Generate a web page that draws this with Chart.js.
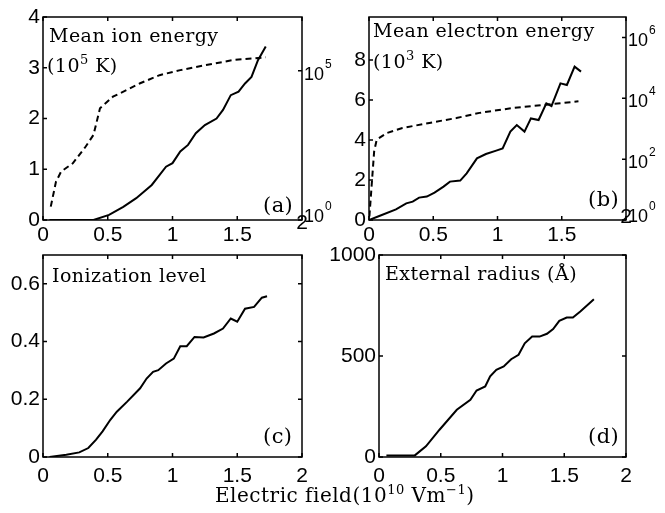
<!doctype html>
<html>
<head>
<meta charset="utf-8" />
<title>Field dependence</title>
<script src="https://cdn.jsdelivr.net/npm/chart.js@4.4.0/dist/chart.umd.min.js"></script>
<style>
  body { margin: 0; background: #fff; }
  #wrap { position: relative; width: 665px; height: 513px; overflow: hidden; }
  #wrap canvas { position: absolute; }
  #xtitle {
    position: absolute; left: 215px; top: 485px;
    font: 20px "DejaVu Serif"; line-height: 1; letter-spacing: 0.5px; white-space: nowrap; color: #000;
  }
  #xtitle sup { font-size: 13px; vertical-align: 8px; line-height: 0; }
</style>
</head>
<body>
<div id="wrap">
  <canvas id="pa" width="332" height="250" style="left:0;top:0"></canvas>
  <canvas id="pb" width="343" height="250" style="left:322px;top:0"></canvas>
  <canvas id="pc" width="332" height="260" style="left:0;top:232px"></canvas>
  <canvas id="pd" width="343" height="260" style="left:322px;top:232px"></canvas>
  <div id="xtitle">Electric field(10<sup>10</sup> Vm<sup>&minus;1</sup>)</div>
</div>
<script>
// ticks
const fieldTicks = [0, 0.5, 1, 1.5, 2];
const ionTicks = [0, 1, 2, 3, 4];
const ionLogTicks = [1, 1e5];
const elecTicks = [0, 2, 4, 6, 8];
const elecLogTicks = [1, 1e2, 1e4, 1e6];
const ionizTicks = [0, 0.2, 0.4, 0.6];
const radiusTicks = [0, 500, 1000];

// (a) mean ion energy, 10^5 K (solid) and K on log axis (dashed)
const fieldIonLin = [0.05, 0.39, 0.51, 0.62, 0.72, 0.84, 0.95, 1.0, 1.06, 1.12, 1.18, 1.25, 1.34, 1.39, 1.45, 1.51, 1.56, 1.61, 1.66, 1.72];
const ionEnergyLin = [0, 0, 0.1, 0.26, 0.43, 0.69, 1.05, 1.12, 1.35, 1.48, 1.71, 1.87, 2.0, 2.17, 2.46, 2.53, 2.69, 2.82, 3.15, 3.42];
const fieldIonLog = [0.06, 0.10, 0.14, 0.23, 0.33, 0.39, 0.44, 0.54, 0.64, 0.75, 0.9, 1.06, 1.26, 1.47, 1.62, 1.72];
const ionEnergyLog = [2.8, 19, 42, 79, 290, 710, 5500, 13500, 22000, 38000, 71000, 105000, 155000, 229000, 257000, 282000];

// (b) mean electron energy, 10^3 K (solid) and K on log axis (dashed)
const fieldElecLin = [0, 0.08, 0.21, 0.29, 0.34, 0.39, 0.45, 0.51, 0.58, 0.63, 0.71, 0.76, 0.84, 0.91, 0.99, 1.04, 1.1, 1.15, 1.21, 1.26, 1.32, 1.38, 1.42, 1.49, 1.54, 1.6, 1.65];
const elecEnergyLin = [0, 0.2, 0.53, 0.83, 0.92, 1.12, 1.17, 1.37, 1.67, 1.92, 1.97, 2.33, 3.08, 3.3, 3.47, 3.58, 4.42, 4.75, 4.42, 5.08, 5.0, 5.83, 5.7, 6.83, 6.75, 7.67, 7.42];
const fieldElecLog = [0.003, 0.02, 0.04, 0.06, 0.14, 0.26, 0.47, 0.68, 0.86, 1.12, 1.38, 1.63];
const elecEnergyLog = [1.3, 12.6, 178, 437, 724, 1050, 1550, 2240, 3310, 4790, 6170, 7940];

// (c) ionization level
const fieldIoniz = [0.05, 0.18, 0.28, 0.35, 0.41, 0.46, 0.52, 0.57, 0.65, 0.75, 0.8, 0.85, 0.89, 0.95, 1.01, 1.06, 1.11, 1.17, 1.24, 1.32, 1.39, 1.45, 1.5, 1.56, 1.63, 1.69, 1.73];
const ionizLevel = [0, 0.008, 0.016, 0.031, 0.06, 0.089, 0.129, 0.157, 0.192, 0.238, 0.272, 0.295, 0.301, 0.324, 0.341, 0.384, 0.384, 0.416, 0.414, 0.428, 0.445, 0.48, 0.469, 0.514, 0.52, 0.552, 0.557];

// (d) external radius, angstrom
const fieldRadius = [0.06, 0.29, 0.38, 0.49, 0.63, 0.74, 0.79, 0.86, 0.9, 0.95, 1.01, 1.07, 1.13, 1.18, 1.24, 1.3, 1.36, 1.41, 1.46, 1.52, 1.57, 1.63, 1.74];
const extRadius = [8, 8, 53, 135, 234, 283, 329, 349, 399, 432, 448, 484, 506, 563, 596, 596, 610, 633, 674, 690, 690, 720, 781];

const tickFont = { family: 'Liberation Sans', size: 21 };
const serif = '"DejaVu Serif"';

function pts(xs, ys) {
  return xs.map((x, i) => ({ x: x, y: ys[i] }));
}

function fixedTicks(list) {
  return function (scale) { scale.ticks = list.map(v => ({ value: v })); };
}

// draws "text" pieces, some of them raised as superscripts
function drawRich(ctx, x, y, parts, size) {
  ctx.textAlign = 'left';
  ctx.textBaseline = 'alphabetic';
  ctx.letterSpacing = '0.45px';
  for (const p of parts) {
    const sup = p[1] === 'sup';
    const fs = sup ? Math.round(size * 0.68) : size;
    ctx.font = fs + 'px ' + serif;
    ctx.fillText(p[0], x, sup ? y - size * 0.42 : y);
    x += ctx.measureText(p[0]).width;
  }
  ctx.letterSpacing = '0px';
}

const panelFrame = {
  id: 'panelFrame',
  afterDraw(chart, args, opts) {
    const ctx = chart.ctx, a = chart.chartArea;
    const sx = chart.scales.x, sy = chart.scales.y, lg = chart.scales.yLog;
    const t = 4;
    ctx.save();
    ctx.strokeStyle = '#000';
    ctx.fillStyle = '#000';
    ctx.lineWidth = 1.5;
    ctx.strokeRect(a.left, a.top, a.width, a.height);
    ctx.beginPath();
    for (const tk of sx.ticks) {
      const px = sx.getPixelForValue(tk.value);
      ctx.moveTo(px, a.bottom); ctx.lineTo(px, a.bottom - t);
      ctx.moveTo(px, a.top); ctx.lineTo(px, a.top + t);
    }
    for (const tk of sy.ticks) {
      const py = sy.getPixelForValue(tk.value);
      ctx.moveTo(a.left, py); ctx.lineTo(a.left + t, py);
      if (!lg) { ctx.moveTo(a.right, py); ctx.lineTo(a.right - t, py); }
    }
    if (lg) {
      for (const tk of lg.ticks) {
        const py = lg.getPixelForValue(tk.value);
        ctx.moveTo(a.right, py); ctx.lineTo(a.right - t, py);
      }
    }
    ctx.stroke();

    // log axis labels as 10 with exponent
    if (lg) {
      ctx.textAlign = 'left';
      ctx.textBaseline = 'alphabetic';
      lg.ticks.forEach((tk, i) => {
        const py = lg.getPixelForValue(tk.value);
        const base = i === 0 ? py + 2 : py + 9;
        ctx.font = '18px "Liberation Sans"';
        ctx.fillText('10', a.right + 2, base);
        const w = ctx.measureText('10').width;
        ctx.font = '12px "Liberation Sans"';
        ctx.fillText(String(Math.round(Math.log10(tk.value))), a.right + 3 + w, base - 12);
      });
    }

    // last x label sits higher on the plotyy panels
    if (opts.liftLast != null) {
      const last = fieldTicks[fieldTicks.length - 1];
      ctx.font = '21px "Liberation Sans"';
      ctx.textAlign = 'center';
      ctx.textBaseline = 'alphabetic';
      ctx.fillText(String(last), sx.getPixelForValue(last), a.bottom + opts.liftLast);
    }

    for (const n of opts.notes || []) {
      drawRich(ctx, a.left + n.dx, a.top + n.dy, n.parts, n.size);
    }
    ctx.restore();
  }
};

function makePanel(id, p) {
  const datasets = p.series.map(s => ({
    data: s.data,
    yAxisID: s.axis,
    borderColor: '#000',
    borderWidth: 2,
    borderDash: s.dashed ? [6, 4] : [],
    pointRadius: 0,
    tension: 0,
    fill: false
  }));
  const scales = {
    x: {
      type: 'linear', min: 0, max: 2,
      afterBuildTicks: fixedTicks(fieldTicks),
      afterFit: s => { s.height = p.xHeight; },
      grid: { display: false, drawTicks: false },
      border: { display: false },
      ticks: {
        font: tickFont, color: '#000', padding: p.xPad, maxRotation: 0, autoSkip: false,
        callback: v => (p.liftLast != null && v === 2) ? '' : String(v)
      }
    },
    y: {
      type: 'linear', position: 'left', min: 0, max: p.yMax,
      afterBuildTicks: fixedTicks(p.yTicks),
      afterFit: s => { s.width = p.yWidth; },
      grid: { display: false, drawTicks: false },
      border: { display: false },
      ticks: { font: tickFont, color: '#000', padding: 3, autoSkip: false, callback: v => String(v) }
    }
  };
  if (p.logTicks) {
    scales.yLog = {
      type: 'logarithmic', position: 'right', min: 1, max: p.logMax,
      afterBuildTicks: fixedTicks(p.logTicks),
      afterFit: s => { s.width = p.rightWidth; },
      grid: { display: false, drawTicks: false },
      border: { display: false },
      ticks: { display: false }
    };
  }
  return new Chart(document.getElementById(id), {
    type: 'line',
    data: { datasets: datasets },
    options: {
      responsive: false,
      animation: false,
      devicePixelRatio: 1,
      layout: { padding: { top: p.top, right: p.logTicks ? 0 : p.rightWidth, left: 0, bottom: 0 } },
      plugins: {
        legend: { display: false },
        tooltip: { enabled: false },
        panelFrame: { notes: p.notes, liftLast: p.liftLast }
      },
      scales: scales
    },
    plugins: [panelFrame]
  });
}

makePanel('pa', {
  top: 17, xHeight: 30, xPad: 3, yWidth: 43, rightWidth: 30,
  yMax: 4, yTicks: ionTicks, logMax: Math.pow(10, 6.8), logTicks: ionLogTicks, liftLast: 9,
  series: [
    { data: pts(fieldIonLin, ionEnergyLin), axis: 'y' },
    { data: pts(fieldIonLog, ionEnergyLog), axis: 'yLog', dashed: true }
  ],
  notes: [
    { dx: 6, dy: 25, size: 19, parts: [['Mean ion energy']] },
    { dx: 4, dy: 55, size: 19, parts: [['(10'], ['5', 'sup'], [' K)']] },
    { dx: 220, dy: 195, size: 21, parts: [['(a)']] }
  ]
});

makePanel('pb', {
  top: 17, xHeight: 30, xPad: 3, yWidth: 47, rightWidth: 39,
  yMax: 10.15, yTicks: elecTicks, logMax: Math.pow(10, 6.67), logTicks: elecLogTicks, liftLast: 3,
  series: [
    { data: pts(fieldElecLin, elecEnergyLin), axis: 'y' },
    { data: pts(fieldElecLog, elecEnergyLog), axis: 'yLog', dashed: true }
  ],
  notes: [
    { dx: 4, dy: 20, size: 19, parts: [['Mean electron energy']] },
    { dx: 4, dy: 51, size: 19, parts: [['(10'], ['3', 'sup'], [' K)']] },
    { dx: 219, dy: 189, size: 21, parts: [['(b)']] }
  ]
});

makePanel('pc', {
  top: 23, xHeight: 35, xPad: 7, yWidth: 43, rightWidth: 30,
  yMax: 0.7, yTicks: ionizTicks,
  series: [{ data: pts(fieldIoniz, ionizLevel), axis: 'y' }],
  notes: [
    { dx: 9, dy: 27, size: 19, parts: [['Ionization level']] },
    { dx: 220, dy: 188, size: 21, parts: [['(c)']] }
  ]
});

makePanel('pd', {
  top: 23, xHeight: 35, xPad: 7, yWidth: 57, rightWidth: 39,
  yMax: 1000, yTicks: radiusTicks,
  series: [{ data: pts(fieldRadius, extRadius), axis: 'y' }],
  notes: [
    { dx: 6, dy: 25, size: 19, parts: [['External radius (Å)']] },
    { dx: 209, dy: 188, size: 21, parts: [['(d)']] }
  ]
});
</script>
</body>
</html>
